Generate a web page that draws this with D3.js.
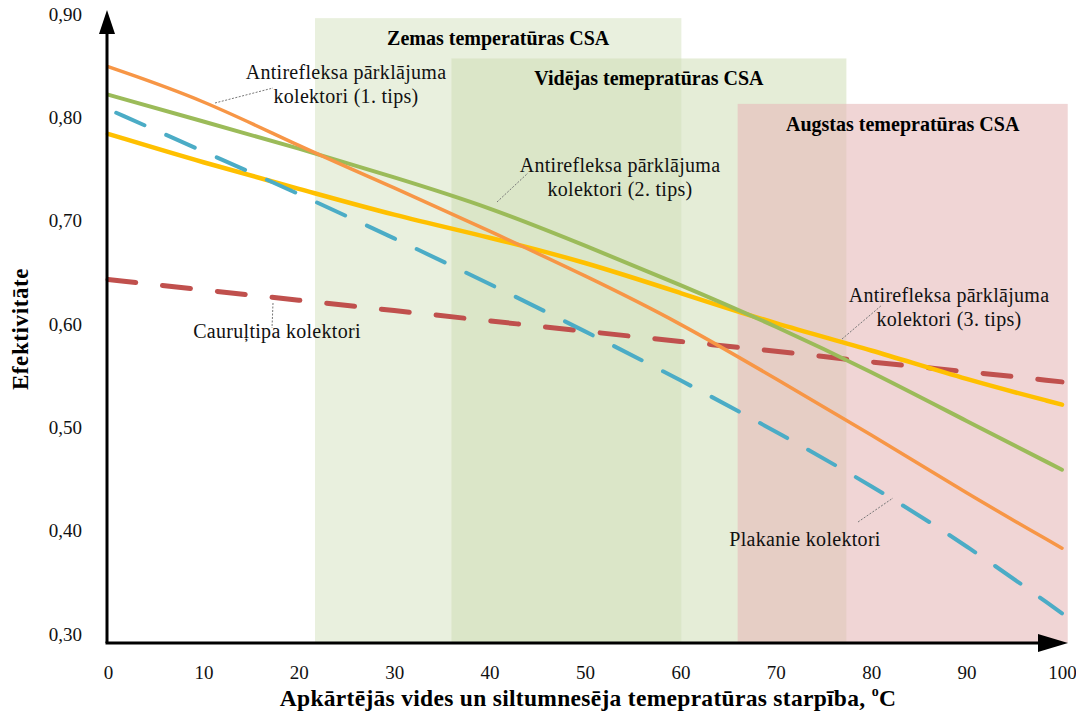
<!DOCTYPE html>
<html>
<head>
<meta charset="utf-8">
<script src="https://cdn.jsdelivr.net/npm/d3@7"></script>
<style>
  body { margin: 0; background: #fff; }
  svg { display: block; }
  svg text { font-family: "Liberation Serif", "DejaVu Serif", serif; }
</style>
</head>
<body>
<script>
// === DATA ===
var tempDiff = [0, 10, 20, 30, 40, 50, 60, 70, 80, 90, 100];
var antiref1 = [0.849, 0.817, 0.772, 0.732, 0.690, 0.647, 0.601, 0.547, 0.493, 0.436, 0.383];
var antiref2 = [0.822, 0.796, 0.770, 0.742, 0.713, 0.676, 0.638, 0.598, 0.554, 0.506, 0.459];
var antiref3 = [0.784, 0.756, 0.731, 0.705, 0.684, 0.660, 0.630, 0.600, 0.575, 0.546, 0.522];
var plakanie = [0.808, 0.767, 0.726, 0.683, 0.639, 0.593, 0.546, 0.496, 0.444, 0.386, 0.320];
var caurul   = [0.643, 0.633, 0.623, 0.613, 0.603, 0.593, 0.583, 0.574, 0.563, 0.554, 0.544];

var xTicks = [0, 10, 20, 30, 40, 50, 60, 70, 80, 90, 100];
var yTicks = [0.30, 0.40, 0.50, 0.60, 0.70, 0.80, 0.90];

// temperature zones: [from, to, top]
var zoneNames = ["Zemas temperatūras CSA", "Vidējas temepratūras CSA", "Augstas temepratūras CSA"];
var zoneFrom  = [21.7, 36, 66];
var zoneTo    = [60.1, 77.4, 100.6];
var zoneTop   = [0.896, 0.857, 0.813];

// === SETUP ===
var W = 1076, H = 722;
var originX = 107, originY = 643;
var FONT = "Liberation Serif, DejaVu Serif, serif";

var svg = d3.select("body").append("svg")
  .attr("width", W)
  .attr("height", H)
  .attr("font-family", FONT);

var x = d3.scaleLinear().domain([0, 100]).range([108, 1062]);
var y = d3.scaleLinear().domain([0.3, 0.9]).range([634, 14]);

// zones
var zoneFill = ["rgb(207,222,182)", "rgb(207,222,182)", "rgb(230,185,185)"];
var zoneOpacity = [0.45, 0.55, 0.6];

svg.selectAll("rect.zone")
  .data(zoneNames)
  .enter()
  .append("rect")
  .attr("class", "zone")
  .attr("x", function (d, i) { return x(zoneFrom[i]); })
  .attr("y", function (d, i) { return y(zoneTop[i]); })
  .attr("width", function (d, i) { return x(zoneTo[i]) - x(zoneFrom[i]); })
  .attr("height", function (d, i) { return originY - y(zoneTop[i]); })
  .style("fill", function (d, i) { return zoneFill[i]; })
  .style("fill-opacity", function (d, i) { return zoneOpacity[i]; });

svg.selectAll("text.zone")
  .data(zoneNames)
  .enter()
  .append("text")
  .attr("class", "zone")
  .attr("x", function (d, i) { return (x(zoneFrom[i]) + x(zoneTo[i])) / 2; })
  .attr("y", function (d, i) { return y(zoneTop[i]) + 27; })
  .attr("text-anchor", "middle")
  .attr("font-family", FONT)
  .style("font-size", "20px")
  .style("font-weight", "bold")
  .text(function (d) { return d; });

// === LINES ===
var series = [
  { vals: caurul,   color: "#C0504D", width: 5,   dash: "28,27", offset: 0 },
  { vals: antiref3, color: "#FFC000", width: 4.5, dash: null,    offset: 0 },
  { vals: plakanie, color: "#4BACC6", width: 4,   dash: "31,24", offset: 46 },
  { vals: antiref2, color: "#9BBB59", width: 4,   dash: null,    offset: 0 },
  { vals: antiref1, color: "#F79646", width: 3.5, dash: null,    offset: 0 }
];

var line = d3.line()
  .x(function (d, i) { return x(tempDiff[i]); })
  .y(function (d) { return y(d); })
  .curve(d3.curveBasis);

series.forEach(function (s) {
  svg.append("path")
    .attr("d", line(s.vals))
    .attr("fill", "none")
    .attr("stroke", s.color)
    .attr("stroke-width", s.width)
    .attr("stroke-linecap", "round")
    .attr("stroke-dasharray", s.dash)
    .attr("stroke-dashoffset", s.offset);
});

// === ANNOTATIONS ===
function note(lines, cx, cy, lx1, ly1, lx2, ly2) {
  svg.append("line")
    .attr("x1", lx1).attr("y1", ly1)
    .attr("x2", lx2).attr("y2", ly2)
    .attr("stroke", "#777")
    .attr("stroke-width", 1)
    .attr("stroke-dasharray", "2,1.5");
  var t = svg.append("text")
    .attr("text-anchor", "middle")
    .attr("font-family", FONT)
    .style("font-size", "20px")
    .style("letter-spacing", "0.3px")
    .style("fill", "#111");
  lines.forEach(function (l, i) {
    t.append("tspan").attr("x", cx).attr("y", cy + i * 24).text(l);
  });
}

note(["Antirefleksa pārklājuma", "kolektori (1. tips)"], 346, 79, 215, 103, 273, 88);
note(["Antirefleksa pārklājuma", "kolektori (2. tips)"], 620, 172, 497, 202, 528, 173);
note(["Antirefleksa pārklājuma", "kolektori (3. tips)"], 949, 302, 842, 339, 882, 305);
note(["Cauruļtipa kolektori"], 277, 338, 273, 303, 272, 328);
note(["Plakanie kolektori"], 805, 546, 858, 522, 893, 498);

// === AXES ===
svg.append("line")
  .attr("x1", originX).attr("y1", originY)
  .attr("x2", originX).attr("y2", 30)
  .attr("stroke", "#000").attr("stroke-width", 3);
svg.append("path")
  .attr("d", "M107,10 L99,34 L115,34 Z")
  .attr("fill", "#000");

svg.append("line")
  .attr("x1", originX - 1.5).attr("y1", originY)
  .attr("x2", 1042).attr("y2", originY)
  .attr("stroke", "#000").attr("stroke-width", 3);
svg.append("path")
  .attr("d", "M1068,643 L1038,634 L1038,652 Z")
  .attr("fill", "#000");

var xAxis = svg.append("g")
  .attr("transform", "translate(0," + (originY + 22) + ")")
  .call(d3.axisBottom(x).tickValues(xTicks).tickSize(0).tickPadding(0));
xAxis.attr("font-family", FONT).attr("font-size", 19);
xAxis.select(".domain").remove();
xAxis.selectAll("text").attr("fill", "#111");

var yAxis = svg.append("g")
  .attr("transform", "translate(" + originX + ",0)")
  .call(d3.axisLeft(y).tickValues(yTicks).tickSize(0).tickPadding(25)
    .tickFormat(function (d) { return d3.format(".2f")(d).replace(".", ","); }));
yAxis.attr("font-family", FONT).attr("font-size", 19);
yAxis.select(".domain").remove();
yAxis.selectAll("text").attr("fill", "#111");

// axis titles
svg.append("text")
  .attr("transform", "translate(28,329) rotate(-90)")
  .attr("text-anchor", "middle")
  .attr("font-family", FONT)
  .style("font-size", "23px")
  .style("font-weight", "bold")
  .style("letter-spacing", "0.6px")
  .text("Efektivitāte");

var xt = svg.append("text")
  .attr("x", 588)
  .attr("y", 706)
  .attr("text-anchor", "middle")
  .attr("font-family", FONT)
  .style("font-size", "23.5px")
  .style("font-weight", "bold")
  .style("letter-spacing", "0.3px");
xt.append("tspan").text("Apkārtējās vides un siltumnesēja temepratūras starpība, ");
xt.append("tspan").attr("dy", -10).style("font-size", "14px").text("o");
xt.append("tspan").attr("dy", 10).text("C");

console.info("OK JS Loaded");
</script>
</body>
</html>
